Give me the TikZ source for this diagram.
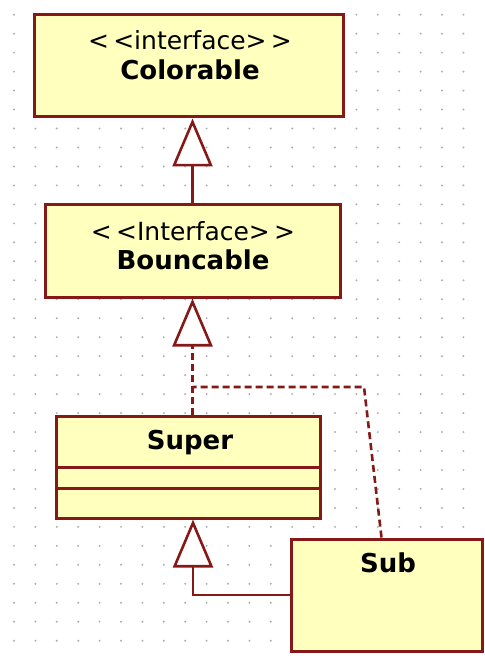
\documentclass[tikz,border=0pt]{standalone}
\usepackage{fontspec}
\setmainfont{DejaVu Sans}
\usepackage{tikz}
\usetikzlibrary{positioning, calc}
\usetikzlibrary{arrows.meta}
\definecolor{umlred}{RGB}{135,24,24}
\definecolor{umlyellow}{RGB}{255,255,190}
\definecolor{griddot}{RGB}{175,175,175}

\begin{document}
\begin{tikzpicture}[x=1pt, y=-1pt,
		classbox/.style={draw=umlred, fill=umlyellow, line width=3pt, rectangle, inner sep=0pt},
		stereo/.style={anchor=base, inner sep=0pt, font=\fontsize{25}{28}\selectfont},
		classname/.style={anchor=base, inner sep=0pt, font=\fontsize{26}{28}\selectfont\bfseries},
		inherit/.style={draw=umlred, line width=2.6pt, -{Triangle[open, fill=white, length=48pt, width=40pt]}},
		realize/.style={inherit, dash pattern=on 7pt off 4pt},
		dashline/.style={draw=umlred, line width=2.6pt, dash pattern=on 7pt off 4pt}]
		
		% white sheet and the frame of the picture
		\fill[white] (0,0) rectangle (484,660);
		\useasboundingbox (0,0) rectangle (484,660);
		
		% dotted grid of the editor
		\foreach \i in {0,...,21} {
			\foreach \j in {0,...,33} {
				\fill[griddot] ({14+21.4*\i},{14.7+18.97*\j}) circle (1.1pt);
			}
		}
		
		% the two interfaces
		\node[classbox, minimum width=309pt, minimum height=102pt] (colorable) at (188.5,66) {};
		\node[stereo] (colorable-st) at (190,50) {{<}\,{<}interface{>}\,{>}};
		\node[classname] (colorable-nm) at (190,80) {Colorable};
		
		\node[classbox, minimum width=295pt, minimum height=92pt] (bouncable) at (192.5,251) {};
		\node[stereo] (bouncable-st) at (193,240) {{<}\,{<}Interface{>}\,{>}};
		\node[classname] (bouncable-nm) at (193,269) {Bouncable};
		
		% the classes, Super with its two empty compartments
		\node[classbox, minimum width=264pt, minimum height=102pt] (super) at (188,467) {};
		\node[classname] (super-nm) at (190,449) {Super};
		\draw[umlred, line width=3pt] (super.west |- 0,467) -- (super.east |- 0,467);
		\draw[umlred, line width=3pt] (super.west |- 0,488) -- (super.east |- 0,488);
		
		\node[classbox, minimum width=191pt, minimum height=112pt] (sub) at (386.5,595) {};
		\node[classname] (sub-nm) at (388,572) {Sub};
		
		% Bouncable extends Colorable
		\draw[inherit] (bouncable.north) -- (bouncable.north |- colorable.south);
		
		% Super and Sub implement Bouncable
		\draw[realize] (bouncable.south |- super.north) -- (bouncable.south);
		\coordinate (bend) at (364,387);
		\draw[dashline] ([xshift=-5pt]sub.north) -- (bend) -- (bend -| bouncable.south);
		
		% Sub extends Super
		\draw[inherit] (sub.west) -| ([xshift=5pt]super.south);
	\end{tikzpicture}
\end{document}
